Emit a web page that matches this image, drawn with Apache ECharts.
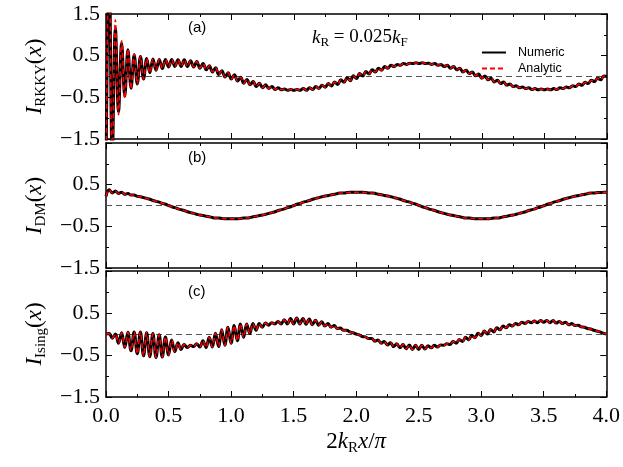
<!DOCTYPE html>
<html>
<head>
<meta charset="utf-8">
<script src="https://cdn.jsdelivr.net/npm/echarts@6/dist/echarts.min.js"></script>
<style>
  html, body { margin: 0; padding: 0; background: #fff; }
  #chart { width: 623px; height: 467px; }
</style>
</head>
<body>
<div id="chart"></div>
<script>
// points every 0.025 along 2kRx/pi (peaks and troughs of the fast wiggle)
const sampleStep = 0.025;

const numericA = [
  -2.5, 3.0, -2.0, 1.16, -0.84, 0.80, -0.47, 0.64, -0.28, 0.52,
  -0.18, 0.48, -0.06, 0.43, 0.09, 0.42, 0.15, 0.41, 0.19, 0.41,
  0.23, 0.41, 0.24, 0.40, 0.24, 0.40, 0.24, 0.38, 0.23, 0.36,
  0.20, 0.31, 0.16, 0.26, 0.11, 0.21, 0.05, 0.14, -0.01, 0.09,
  -0.06, 0.04, -0.11, -0.02, -0.16, -0.07, -0.20, -0.12, -0.24, -0.16,
  -0.27, -0.20, -0.29, -0.24, -0.31, -0.27, -0.32, -0.30, -0.33, -0.31,
  -0.33, -0.31, -0.33, -0.29, -0.33, -0.27, -0.31, -0.24, -0.29, -0.21,
  -0.26, -0.17, -0.23, -0.13, -0.19, -0.08, -0.14, -0.03, -0.10, 0.02,
  -0.05, 0.07, 0.01, 0.12, 0.06, 0.16, 0.11, 0.20, 0.15, 0.24,
  0.20, 0.27, 0.24, 0.29, 0.27, 0.31, 0.29, 0.32, 0.31, 0.33,
  0.31, 0.33, 0.31, 0.32, 0.29, 0.31, 0.27, 0.29, 0.24, 0.27,
  0.20, 0.24, 0.16, 0.20, 0.11, 0.15, 0.07, 0.11, 0.02, 0.06,
  -0.04, 0.01, -0.08, -0.04, -0.13, -0.09, -0.17, -0.13, -0.21, -0.18,
  -0.24, -0.22, -0.27, -0.25, -0.29, -0.27, -0.31, -0.29, -0.32, -0.30,
  -0.32, -0.30, -0.32, -0.29, -0.31, -0.27, -0.29, -0.25, -0.27, -0.22,
  -0.24, -0.18, -0.21, -0.14, -0.17, -0.09, -0.12, -0.04, -0.08, 0.01,
  0.00
];
// the analytic curve only departs from the numeric one at the very start of (a)
const analyticHeadA = [-2.5, 3.0, -2.2, 1.36, -0.92, 0.86, -0.52, 0.66, -0.30, 0.54];

const numericB = [
  0.22, 0.38, 0.30, 0.35, 0.29, 0.32, 0.27, 0.29, 0.25, 0.25,
  0.22, 0.21, 0.19, 0.17, 0.15, 0.12, 0.10, 0.08, 0.05, 0.03,
  0.00, -0.03, -0.05, -0.08, -0.10, -0.12, -0.15, -0.17, -0.19, -0.21,
  -0.23, -0.24, -0.26, -0.27, -0.29, -0.30, -0.30, -0.31, -0.32, -0.32,
  -0.32, -0.32, -0.32, -0.31, -0.30, -0.30, -0.29, -0.27, -0.26, -0.24,
  -0.23, -0.21, -0.19, -0.17, -0.15, -0.12, -0.10, -0.08, -0.05, -0.03,
  0.00, 0.03, 0.05, 0.08, 0.10, 0.12, 0.15, 0.17, 0.19, 0.21,
  0.23, 0.24, 0.26, 0.27, 0.29, 0.30, 0.30, 0.31, 0.32, 0.32,
  0.32, 0.32, 0.32, 0.31, 0.30, 0.30, 0.29, 0.27, 0.26, 0.24,
  0.23, 0.21, 0.19, 0.17, 0.15, 0.12, 0.10, 0.08, 0.05, 0.03,
  0.00, -0.03, -0.05, -0.08, -0.10, -0.12, -0.15, -0.17, -0.19, -0.21,
  -0.23, -0.24, -0.26, -0.27, -0.29, -0.30, -0.30, -0.31, -0.32, -0.32,
  -0.32, -0.32, -0.32, -0.31, -0.30, -0.30, -0.29, -0.27, -0.26, -0.24,
  -0.23, -0.21, -0.19, -0.17, -0.15, -0.12, -0.10, -0.08, -0.05, -0.03,
  0.00, 0.03, 0.05, 0.08, 0.10, 0.12, 0.15, 0.17, 0.19, 0.21,
  0.23, 0.24, 0.26, 0.27, 0.29, 0.30, 0.30, 0.31, 0.31, 0.32,
  0.32
];

const numericC = [
  0.00, 0.01, -0.10, 0.00, -0.22, 0.03, -0.32, 0.04, -0.40, 0.05,
  -0.47, 0.05, -0.52, 0.03, -0.54, 0.01, -0.56, -0.02, -0.55, -0.07,
  -0.50, -0.14, -0.42, -0.21, -0.37, -0.25, -0.32, -0.27, -0.30, -0.23,
  -0.31, -0.16, -0.32, -0.08, -0.31, 0.02, -0.30, 0.10, -0.27, 0.16,
  -0.22, 0.20, -0.16, 0.24, -0.08, 0.24, 0.01, 0.25, 0.09, 0.25,
  0.16, 0.26, 0.21, 0.27, 0.24, 0.30, 0.24, 0.34, 0.24, 0.37,
  0.24, 0.38, 0.24, 0.37, 0.23, 0.36, 0.22, 0.33, 0.21, 0.29,
  0.19, 0.25, 0.16, 0.20, 0.13, 0.14, 0.09, 0.09, 0.05, 0.03,
  0.00, -0.02, -0.06, -0.07, -0.11, -0.11, -0.17, -0.14, -0.22, -0.18,
  -0.26, -0.21, -0.30, -0.23, -0.33, -0.25, -0.35, -0.26, -0.37, -0.27,
  -0.37, -0.27, -0.36, -0.28, -0.33, -0.27, -0.31, -0.26, -0.27, -0.23,
  -0.25, -0.18, -0.22, -0.13, -0.18, -0.08, -0.14, -0.03, -0.09, 0.02,
  -0.04, 0.07, 0.00, 0.11, 0.05, 0.15, 0.10, 0.19, 0.15, 0.22,
  0.19, 0.25, 0.22, 0.28, 0.25, 0.30, 0.27, 0.31, 0.27, 0.32,
  0.28, 0.32, 0.27, 0.32, 0.26, 0.30, 0.25, 0.28, 0.22, 0.25,
  0.20, 0.21, 0.17, 0.16, 0.13, 0.12, 0.09, 0.07, 0.05, 0.02,
  0.00
];

const panelTags = ['(a)', '(b)', '(c)'];
const panelSubs = ['RKKY', 'DM', 'Ising'];
const legendNames = ['Numeric', 'Analytic'];

const xs = numericA.map((_, i) => +(i * sampleStep).toFixed(3));
const toPairs = arr => arr.map((v, i) => [xs[i], v]);
const analyticA = analyticHeadA.concat(numericA.slice(analyticHeadA.length));

const panels = [
  { top: 14, height: 125, num: numericA, ana: analyticA },
  { top: 143, height: 125, num: numericB, ana: numericB },
  { top: 271, height: 126, num: numericC, ana: numericC }
];

const serif = 'Liberation Serif';
const mathRich = {
  i: { fontFamily: serif, fontStyle: 'italic', fontSize: 23, lineHeight: 29, color: '#000' },
  n: { fontFamily: serif, fontSize: 23, lineHeight: 29, color: '#000' },
  s: { fontFamily: serif, fontSize: 15, lineHeight: 15, verticalAlign: 'bottom', color: '#000' }
};
const minus = s => s.replace('-', '\u2212');

const chart = echarts.init(document.getElementById('chart'), null, { renderer: 'canvas' });

const grids = [], xAxes = [], yAxes = [], series = [];

panels.forEach((p, k) => {
  grids.push({ left: 106, right: 16, top: p.top, height: p.height });
  const isLast = k === panels.length - 1;
  const frame = { show: true, onZero: false, lineStyle: { color: '#000', width: 1.5 } };
  const ticks = { show: true, inside: true, length: 6, lineStyle: { color: '#000', width: 1 } };
  const minor = { show: true, splitNumber: 2, length: 3, lineStyle: { color: '#000', width: 1 } };
  const baseX = {
    type: 'value', gridIndex: k, min: 0, max: 4, interval: 0.5,
    axisLine: frame, axisTick: ticks, minorTick: minor, splitLine: { show: false }
  };
  xAxes.push(Object.assign({}, baseX, {
    position: 'bottom',
    axisLabel: {
      show: isLast, margin: 8, color: '#000', fontFamily: serif, fontSize: 22,
      formatter: v => v.toFixed(1)
    },
    name: isLast ? '{n|2}{i|k}{s|R}{i|x}{n|/}{i|\u03c0}' : '',
    nameLocation: 'middle', nameGap: 30,
    nameTextStyle: { rich: mathRich }
  }));
  xAxes.push(Object.assign({}, baseX, { position: 'top', axisLabel: { show: false } }));

  const baseY = {
    type: 'value', gridIndex: k, min: -1.5, max: 1.5, interval: 1,
    axisLine: frame, axisTick: ticks, minorTick: minor, splitLine: { show: false }
  };
  yAxes.push(Object.assign({}, baseY, {
    position: 'left',
    axisLabel: {
      margin: 6, color: '#000', fontFamily: serif, fontSize: 22,
      formatter: v => (k > 0 && v > 1.4) ? '' : minus(v.toFixed(1))
    },
    name: '{i|I}{s|' + panelSubs[k] + '}{n|(}{i|x}{n|)}',
    nameLocation: 'middle', nameRotate: 90, nameGap: 57,
    nameTextStyle: { rich: mathRich }
  }));
  yAxes.push(Object.assign({}, baseY, { position: 'right', axisLabel: { show: false } }));

  series.push({
    type: 'line', xAxisIndex: 2 * k, yAxisIndex: 2 * k, data: [],
    silent: true, z: 1,
    markLine: {
      silent: true, symbol: 'none', z: 1, animation: false,
      label: { show: false },
      lineStyle: { color: '#555', type: [6, 4], width: 1 },
      data: [{ yAxis: 0 }]
    }
  });
  series.push({
    name: legendNames[0], type: 'line', xAxisIndex: 2 * k, yAxisIndex: 2 * k,
    data: toPairs(p.num), showSymbol: false, symbol: 'none', smooth: 0.4, z: 2,
    lineStyle: { color: '#000', width: 3 }, itemStyle: { color: '#000' }
  });
  series.push({
    name: legendNames[1], type: 'line', xAxisIndex: 2 * k, yAxisIndex: 2 * k,
    data: toPairs(p.ana), showSymbol: false, symbol: 'none', smooth: 0.4, z: 3,
    lineStyle: { color: '#ff0000', width: 1.5, type: [5, 3] }, itemStyle: { color: '#ff0000' }
  });
});

const tagTops = [20, 150, 284];
const graphics = panelTags.map((t, k) => ({
  type: 'text', left: 188, top: tagTops[k],
  style: { text: t, font: '15px "Liberation Sans"', fill: '#000' }
}));
graphics.push({
  type: 'text', left: 312, top: 28,
  style: {
    text: '{i|k}{s|R}{n| = 0.025}{i|k}{s|F}',
    rich: {
      i: { fontFamily: serif, fontStyle: 'italic', fontSize: 19, lineHeight: 24, color: '#000' },
      n: { fontFamily: serif, fontSize: 19, lineHeight: 24, color: '#000' },
      s: { fontFamily: serif, fontSize: 13, lineHeight: 13, verticalAlign: 'bottom', color: '#000' }
    }
  }
});

chart.setOption({
  animation: false,
  backgroundColor: '#fff',
  grid: grids,
  xAxis: xAxes,
  yAxis: yAxes,
  legend: {
    data: legendNames, orient: 'vertical', left: 476, top: 41,
    itemWidth: 24, itemHeight: 12, itemGap: 3, selectedMode: false,
    itemStyle: { opacity: 0 },
    textStyle: { fontFamily: 'Liberation Sans', fontSize: 12.5, color: '#000', padding: [0, 0, 0, 7] }
  },
  graphic: graphics,
  series: series
});
</script>
</body>
</html>
